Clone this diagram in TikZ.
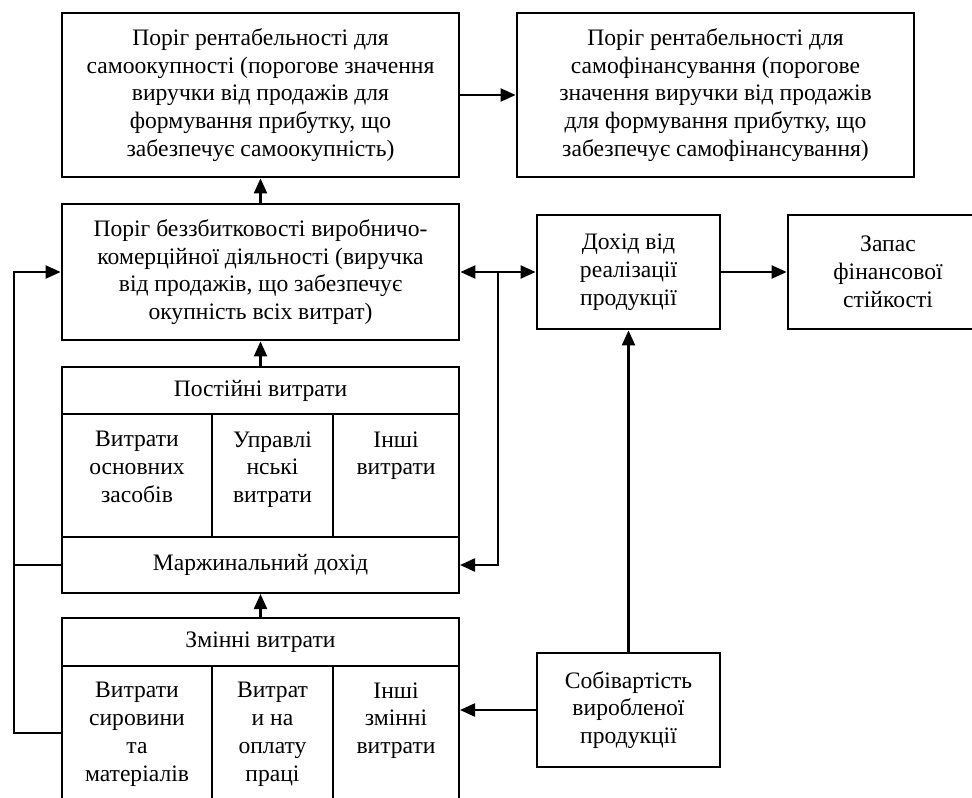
\documentclass[tikz,border=0pt]{standalone}
\usepackage{fontspec}
\setmainfont{Liberation Serif}
\usetikzlibrary{arrows.meta,calc}
\tikzset{>={Triangle[length=7.5pt,width=6.5pt]}}
\newcommand{\txt}{\fontsize{11.8}{13.9}\selectfont}
\tikzset{
  box/.style={draw,line width=1.4pt,align=center,inner sep=0pt,font=\txt},
  cell/.style={draw,line width=1pt,inner sep=0pt,align=center,font=\txt},
  celltext/.style={anchor=north,align=center,inner sep=0pt,font=\txt},
  link/.style={line width=1.1pt}
}
\begin{document}
\begin{tikzpicture}[x=0.5pt,y=-0.5pt]
\useasboundingbox (0,0) rectangle (972,797);
\clip (0,0) rectangle (972,797);
\node[box,minimum width=198.5pt,minimum height=82pt] (rs) at (260.5,95)
  {Поріг рентабельності для\\самоокупності (порогове значення\\виручки від продажів для\\формування прибутку, що\\забезпечує самоокупність)};
\node[box,minimum width=198.5pt,minimum height=82pt] (rf) at (715.5,95)
  {Поріг рентабельності для\\самофінансування (порогове\\значення виручки від продажів\\для формування прибутку, що\\забезпечує самофінансування)};
\node[box,minimum width=198.5pt,minimum height=68pt] (bz) at (260.5,272)
  {Поріг беззбитковості виробничо-\\комерційної діяльності (виручка\\від продажів, що забезпечує\\окупність всіх витрат)};
\node[box,minimum width=91.5pt,minimum height=57pt] (dr) at (628.5,272) {Дохід від\\реалізації\\продукції};
\node[box,minimum width=100pt,minimum height=57pt] (zf) at (888,272) {Запас\\фінансової\\стійкості};
\node[box,minimum width=91.5pt,minimum height=57pt] (sob) at (628.5,710) {Собівартість\\виробленої\\продукції};
% постійні витрати
\node[cell,minimum width=198.5pt,minimum height=23.5pt] (fh) at (260.5,390.5) {Постійні витрати};
\node[cell,minimum width=75pt,minimum height=61.5pt] (f1) at (137,475.5) {};
\node[cell,minimum width=60.5pt,minimum height=61.5pt] (f2) at (272.5,475.5) {};
\node[cell,minimum width=63pt,minimum height=61.5pt] (f3) at (396,475.5) {};
\node[cell,minimum width=198.5pt,minimum height=28pt] (fm) at (260.5,565) {Маржинальний дохід};
\node[celltext] (f1t) at ($(f1.north)+(0,18)$) {Витрати\\основних\\засобів};
\node[celltext] (f2t) at ($(f2.north)+(0,18)$) {Управлі\\нські\\витрати};
\node[celltext] (f3t) at ($(f3.north)+(0,18)$) {Інші\\витрати};
% змінні витрати
\node[cell,minimum width=198.5pt,minimum height=24pt] (vh) at (260.5,642) {Змінні витрати};
\node[cell,minimum width=75pt,minimum height=77pt] (v1) at (137,743) {};
\node[cell,minimum width=60.5pt,minimum height=77pt] (v2) at (272.5,743) {};
\node[cell,minimum width=63pt,minimum height=77pt] (v3) at (396,743) {};
\node[celltext] (v1t) at ($(v1.north)+(0,17)$) {Витрати\\сировини\\та\\матеріалів};
\node[celltext] (v2t) at ($(v2.north)+(0,17)$) {Витрат\\и на\\оплату\\праці};
\node[celltext] (v3t) at ($(v3.north)+(0,17)$) {Інші\\змінні\\витрати};
% зв'язки
\coordinate (lp) at (14,272);
\coordinate (rj) at (498,272);
\draw[link,->] (bz) -- (rs);
\draw[link,->] (rs) -- (rf);
\draw[link,->] (fh.north) -- (bz.south);
\draw[link,->] (vh.north) -- (fm.south);
\draw[link,<->] (bz.east) -- (dr.west);
\draw[link,->] (rj) |- (fm.east);
\draw[link,->] (dr) -- (zf);
\draw[link,->] (sob) -- (dr);
\draw[link,->] (sob.west) -- (sob.west -| v3.east);
\draw[link,->] (fm.west) -| (lp) -- (bz.west);
\draw[link] (v1.west |- 0,733) -| (lp);
\end{tikzpicture}
\end{document}
